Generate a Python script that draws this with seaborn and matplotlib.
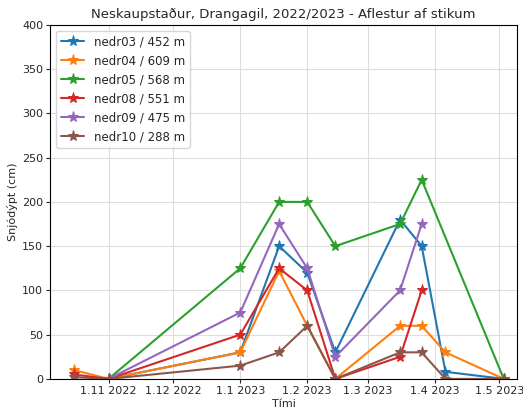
import pandas as pd
import numpy as np
import matplotlib
matplotlib.use("Agg")
import matplotlib.pyplot as plt
import matplotlib.dates as mdates
import seaborn as sns

dates = pd.to_datetime(["2022-10-16", "2022-11-01", "2023-01-01", "2023-01-19", "2023-02-01",
                        "2023-02-14", "2023-03-16", "2023-03-26", "2023-04-06", "2023-05-03"])
nan = np.nan
nedr03 = [nan, 0, 30, 150, 120, 30, 180, 150, 8, 0]
nedr04 = [10, 0, 30, 122, 60, 0, 60, 60, 30, 0]
nedr05 = [nan, 0, 125, 200, 200, 150, 175, 225, nan, 0]
nedr08 = [5, 0, 50, 125, 100, 0, 25, 100, nan, nan]
nedr09 = [nan, 0, 75, 175, 125, 25, 100, 175, nan, nan]
nedr10 = [2, 0, 15, 30, 60, 0, 30, 30, 0, 0]
labels = ["nedr03 / 452 m", "nedr04 / 609 m", "nedr05 / 568 m",
          "nedr08 / 551 m", "nedr09 / 475 m", "nedr10 / 288 m"]
series = [nedr03, nedr04, nedr05, nedr08, nedr09, nedr10]

sns.set_style("white")
fig, ax = plt.subplots(figsize=(5.23, 4.15), dpi=100)
colors = sns.color_palette("tab10")
for i, (lab, vals) in enumerate(zip(labels, series)):
    d = pd.DataFrame({"date": dates, "val": vals}).dropna()
    sns.lineplot(data=d, x="date", y="val", ax=ax, color=colors[i], marker="*",
                 markersize=8, markeredgecolor=colors[i], label=lab)

ax.set_ylim(0, 400)
ax.set_xlim(pd.Timestamp("2022-10-05"), pd.Timestamp("2023-05-09"))
ax.xaxis.set_major_locator(mdates.MonthLocator())
ax.xaxis.set_major_formatter(plt.FuncFormatter(
    lambda x, pos: f"{mdates.num2date(x).day}.{mdates.num2date(x).month} {mdates.num2date(x).year}"))
ax.grid(True, color="#dddddd", linewidth=0.8)
for s in ax.spines.values():
    s.set_color("black")
ax.tick_params(axis="both", labelsize=8, length=3, pad=2, direction="out", bottom=True, left=True)
ax.set_title("Neskaupstaður, Drangagil, 2022/2023 - Aflestur af stikum", fontsize=9.5, pad=5)
ax.set_xlabel("Tími", fontsize=8, labelpad=2)
ax.set_ylabel("Snjódýpt (cm)", fontsize=8, labelpad=3)
ax.legend(loc="upper left", fontsize=8.5)
fig.subplots_adjust(left=0.096, right=0.988, top=0.94, bottom=0.087)
plt.savefig("out.png")
